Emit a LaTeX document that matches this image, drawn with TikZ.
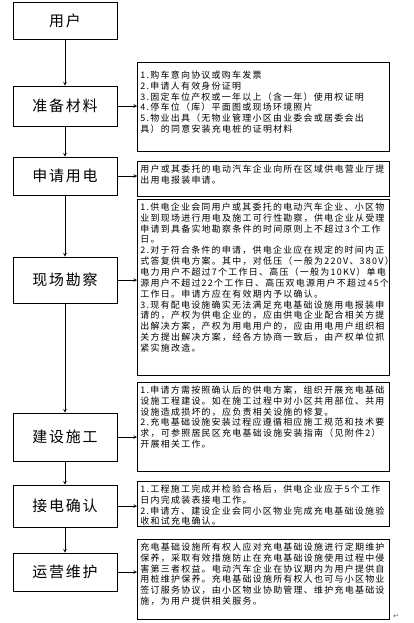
\documentclass[tikz,border=0pt]{standalone}
\usepackage{fontspec}
\usepackage{tikz}
\newfontfamily\stagecjk[LetterSpace=12]{Noto Sans CJK SC}
\newfontfamily\notecjk[LetterSpace=14]{Noto Sans CJK SC}
\newfontfamily\markfont{DejaVu Sans}

\begin{document}
\begin{tikzpicture}[
  x=1bp, y=-1bp,
  stage/.style={rectangle, draw, line width=0.8pt, minimum width=104bp,
                inner sep=0pt, font=\stagecjk\fontsize{15}{18}\selectfont},
  note/.style={rectangle, draw, line width=0.8pt, anchor=north west,
               text width=246bp, inner xsep=3bp, inner ysep=3bp,
               text height=8bp, align=left,
               font=\notecjk\fontsize{9}{10.9}\selectfont},
  arr/.style={->, line width=0.6pt, >=stealth}
]
\useasboundingbox (0,0) rectangle (413,623);

\node[stage, minimum height=37bp] (user) at (65,21) {用户};
\node[stage, minimum height=40bp] (prep) at (65,106) {准备材料};
\node[stage, minimum height=38bp] (apply) at (65,176) {申请用电};
\node[stage, minimum height=46bp] (survey) at (65,280) {现场勘察};
\node[stage, minimum height=48bp] (build) at (65,437) {建设施工};
\node[stage, minimum height=42bp] (connect) at (65,506) {接电确认};
\node[stage, minimum height=38bp] (maint) at (65,572) {运营维护};

\node[note, text height=13bp, text depth=70bp] (prepnote) at (137,62) {
  1.购车意向协议或购车发票\\
  2.申请人有效身份证明\\
  3.固定车位产权或一年以上（含一年）使用权证明\\
  4.停车位（库）平面图或现场环境照片\\
  5.物业出具（无物业管理小区由业委会或居委会出\\
  具）的同意安装充电桩的证明材料
};
\node[note, text depth=21bp] (applynote) at (137,161) {
  用户或其委托的电动汽车企业向所在区域供电营业厅提\\
  出用电报装申请。
};
\node[note, text depth=162bp] (surveynote) at (137,199) {
  1.供电企业会同用户或其委托的电动汽车企业、小区物\\
  业到现场进行用电及施工可行性勘察，供电企业从受理\\
  申请到具备实地勘察条件的时间原则上不超过3个工作\\
  日。\\
  2.对于符合条件的申请，供电企业应在规定的时间内正\\
  式答复供电方案。其中，对低压（一般为220V、380V）\\
  电力用户不超过7个工作日、高压（一般为10KV）单电\\
  源用户不超过22个工作日、高压双电源用户不超过45个\\
  工作日。申请方应在有效期内予以确认。\\
  3.现有配电设施确实无法满足充电基础设施用电报装申\\
  请的，产权为供电企业的，应由供电企业配合相关方提\\
  出解决方案，产权为用电用户的，应由用电用户组织相\\
  关方提出解决方案，经各方协商一致后，由产权单位抓\\
  紧实施改造。
};
\node[note, text depth=75bp] (buildnote) at (137,382) {
  1.申请方需按照确认后的供电方案，组织开展充电基础\\
  设施工程建设。如在施工过程中对小区共用部位、共用\\
  设施造成损坏的，应负责相关设施的修复。\\
  2.充电基础设施安装过程应遵循相应施工规范和技术要\\
  求，可参照居民区充电基础设施安装指南（见附件2）\\
  开展相关工作。
};
\node[note, text depth=31bp] (connectnote) at (137,481) {
  1.工程施工完成并检验合格后，供电企业应于5个工作\\
  日内完成装表接电工作。\\
  2.申请方、建设企业会同小区物业完成充电基础设施验\\
  收和试充电确认。
};
\node[note, text depth=66bp] (maintnote) at (137,539) {
  充电基础设施所有权人应对充电基础设施进行定期维护\\
  保养，采取有效措施防止在充电基础设施使用过程中侵\\
  害第三者权益。电动汽车企业在协议期内为用户提供自\\
  用桩维护保养。充电基础设施所有权人也可与小区物业\\
  签订服务协议，由小区物业协助管理、维护充电基础设\\
  施，为用户提供相关服务。
};
\node[font=\markfont\fontsize{7}{7}\selectfont, text=black!60, inner sep=0pt,
      anchor=south west] (pmark) at ([xshift=3bp, yshift=1.5bp]maintnote.south east) {↵};

\draw[arr] (user) -- (prep);
\draw[arr] (prep) -- (apply);
\draw[arr] (apply) -- (survey);
\draw[arr] (survey) -- (build);
\draw[arr] (build) -- (connect);
\draw[arr] (connect) -- (maint);

\draw[arr] (prep.east) -- (prep.east -| prepnote.west);
\draw[arr] (apply.east) -- (apply.east -| applynote.west);
\draw[arr] (survey.east) -- (survey.east -| surveynote.west);
\draw[arr] (build.east) -- (build.east -| buildnote.west);
\draw[arr] (connect.east) -- (connect.east -| connectnote.west);
\draw[arr] (maint.east) -- (maint.east -| maintnote.west);
\end{tikzpicture}
\end{document}
